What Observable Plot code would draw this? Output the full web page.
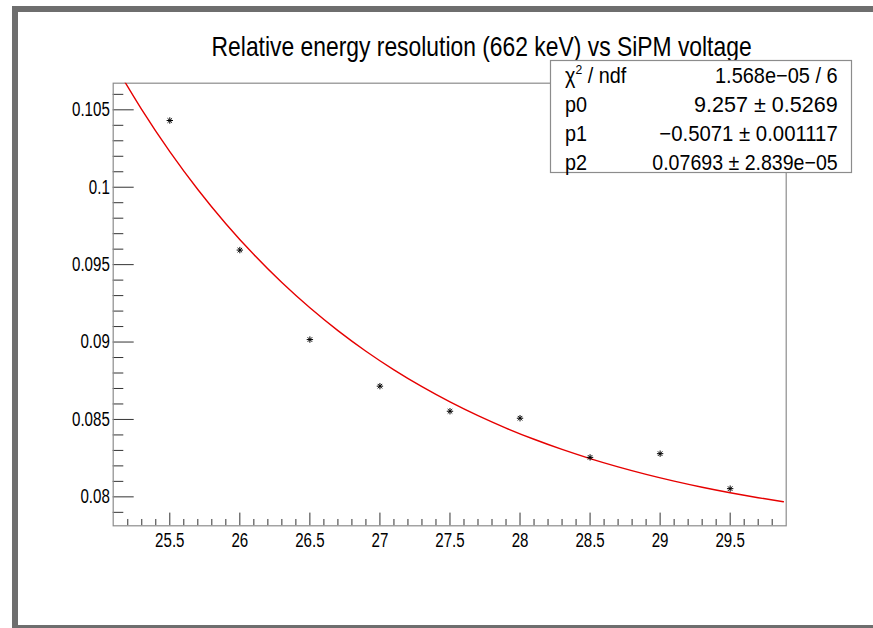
<!DOCTYPE html>
<html>
<head>
<meta charset="utf-8">
<script src="https://cdn.jsdelivr.net/npm/d3@7"></script>
<script src="https://cdn.jsdelivr.net/npm/@observablehq/plot@0.6"></script>
<style>
  html, body { margin: 0; padding: 0; background: white; }
  #wrap { position: relative; width: 873px; height: 628px; overflow: hidden; }
  #wrap svg { position: absolute; left: 0; top: 0; }
</style>
</head>
<body>
<div id="wrap"></div>
<script>
// ---- data ----
const title = "Relative energy resolution (662 keV) vs SiPM voltage";
const voltage = [25.5, 26, 26.5, 27, 27.5, 28, 28.5, 29, 29.5];
const resolution = [0.10431, 0.09594, 0.09016, 0.08715, 0.08553, 0.08508, 0.08255, 0.08279, 0.08053];

// fitted curve (red line) sampled along x
const fitX = [25.1, 25.3, 25.5, 25.7, 25.9, 26.1, 26.3, 26.5, 26.7, 26.9, 27.1, 27.3, 27.5,
              27.7, 27.9, 28.1, 28.3, 28.5, 28.7, 28.9, 29.1, 29.3, 29.5, 29.7, 29.88];
const fitY = [0.108011, 0.105013, 0.102305, 0.099857, 0.097646, 0.095648, 0.093843, 0.092212,
              0.090738, 0.089406, 0.088203, 0.087116, 0.086134, 0.085246, 0.084444, 0.083719,
              0.083064, 0.082473, 0.081938, 0.081455, 0.081019, 0.080624, 0.080268, 0.079946, 0.079683];

const xMajorTicks = [25.5, 26, 26.5, 27, 27.5, 28, 28.5, 29, 29.5];
const xMinorTicks = [25.2, 25.3, 25.4, 25.6, 25.7, 25.8, 25.9, 26.1, 26.2, 26.3, 26.4,
                     26.6, 26.7, 26.8, 26.9, 27.1, 27.2, 27.3, 27.4, 27.6, 27.7, 27.8, 27.9,
                     28.1, 28.2, 28.3, 28.4, 28.6, 28.7, 28.8, 28.9, 29.1, 29.2, 29.3, 29.4,
                     29.6, 29.7, 29.8];
const yMajorTicks = [0.08, 0.085, 0.09, 0.095, 0.1, 0.105];
const yMinorTicks = [0.079, 0.081, 0.082, 0.083, 0.084, 0.086, 0.087, 0.088, 0.089,
                     0.091, 0.092, 0.093, 0.094, 0.096, 0.097, 0.098, 0.099,
                     0.101, 0.102, 0.103, 0.104, 0.106];

const statNames = ["χ", "p0", "p1", "p2"];
const statValues = ["1.568e−05 / 6", "9.257 ± 0.5269", "−0.5071 ± 0.001117", "0.07693 ± 2.839e−05"];

// ---- build ----
const points = voltage.map((v, i) => ({x: v, y: resolution[i]}));
const fit = fitX.map((v, i) => ({x: v, y: fitY[i]}));

const regular = "'Liberation Sans', Arial, sans-serif";

// ROOT marker style 3: eight-armed star
const rootStar = {
  draw(context, size) {
    const r = Math.sqrt(size) / 2;
    const d = r * 0.7071;
    context.moveTo(-r, 0); context.lineTo(r, 0);
    context.moveTo(0, -r); context.lineTo(0, r);
    context.moveTo(-d, -d); context.lineTo(d, d);
    context.moveTo(-d, d); context.lineTo(d, -d);
  }
};

const chart = Plot.plot({
  width: 873,
  height: 628,
  marginLeft: 112.7,
  marginTop: 82.7,
  marginRight: 87.3,
  marginBottom: 102.7,
  style: {fontFamily: regular, fontSize: "20px", color: "black", background: "transparent"},
  x: {domain: [25.096, 29.9]},
  y: {domain: [0.07813, 0.10672]},
  marks: [
    Plot.axisY({ticks: yMajorTicks, tickSize: -21, tickPadding: 24.4, tickFormat: d => String(d), stroke: "#333", label: null}),
    Plot.axisY({ticks: yMinorTicks, tickSize: -10.6, text: null, stroke: "#333", label: null}),
    Plot.axisX({ticks: xMajorTicks, tickSize: -12.7, tickPadding: 19.5, tickFormat: d => String(d), stroke: "#333", label: null}),
    Plot.axisX({ticks: xMinorTicks, tickSize: -6.3, text: null, stroke: "#333", label: null}),
    Plot.frame({stroke: "#8c8c8c", strokeWidth: 1.2}),
    Plot.line(fit, {x: "x", y: "y", stroke: "#e60000", strokeWidth: 1.4, curve: "natural", clip: true}),
    Plot.dot(points, {x: "x", y: "y", symbol: rootStar, r: 3.6, stroke: "black", strokeWidth: 1, fill: "none"})
  ]
});

const wrap = document.getElementById("wrap");
wrap.appendChild(chart);

// condense text (the reference uses a narrow face)
function condense(el, factor) {
  const w = el.getComputedTextLength();
  el.setAttribute("textLength", (w * factor).toFixed(2));
  el.setAttribute("lengthAdjust", "spacingAndGlyphs");
}
chart.querySelectorAll('g[aria-label="y-axis tick label"] text, g[aria-label="x-axis tick label"] text')
  .forEach(t => condense(t, 0.755));

// overlay: canvas border, title, statistics box
const ov = d3.select(wrap).append("svg")
  .attr("width", 873).attr("height", 628)
  .style("pointer-events", "none");

ov.append("rect")
  .attr("x", 15).attr("y", 9).attr("width", 900).attr("height", 619)
  .attr("fill", "none").attr("stroke", "#6e6e6e").attr("stroke-width", 6);

ov.append("text")
  .attr("x", 481.6).attr("y", 56)
  .attr("text-anchor", "middle")
  .attr("textLength", 540).attr("lengthAdjust", "spacingAndGlyphs")
  .style("font-family", regular).style("font-size", "28px")
  .text(title);

const box = ov.append("g");
box.append("rect")
  .attr("x", 550.5).attr("y", 60.5).attr("width", 301).attr("height", 112)
  .attr("fill", "white").attr("stroke", "#8c8c8c").attr("stroke-width", 1.2);

const baselines = [83, 112, 141, 170];
const valueWidths = [122.7, 143.7, 178.4, 185.4];
statNames.forEach((name, i) => {
  const t = box.append("text")
    .attr("x", 565).attr("y", baselines[i])
    .style("font-family", regular).style("font-size", "22px");
  if (i === 0) {
    t.append("tspan").text(name);
    t.append("tspan").attr("dy", -9).style("font-size", "13.5px").text("2");
    t.append("tspan").attr("dy", 9).text(" / ndf");
  } else {
    t.text(name);
  }
  condense(t.node(), 0.9);
  box.append("text")
    .attr("x", 837.7).attr("y", baselines[i])
    .attr("text-anchor", "end")
    .attr("textLength", valueWidths[i]).attr("lengthAdjust", "spacingAndGlyphs")
    .style("font-family", regular).style("font-size", "22px")
    .text(statValues[i]);
});
</script>
</body>
</html>
